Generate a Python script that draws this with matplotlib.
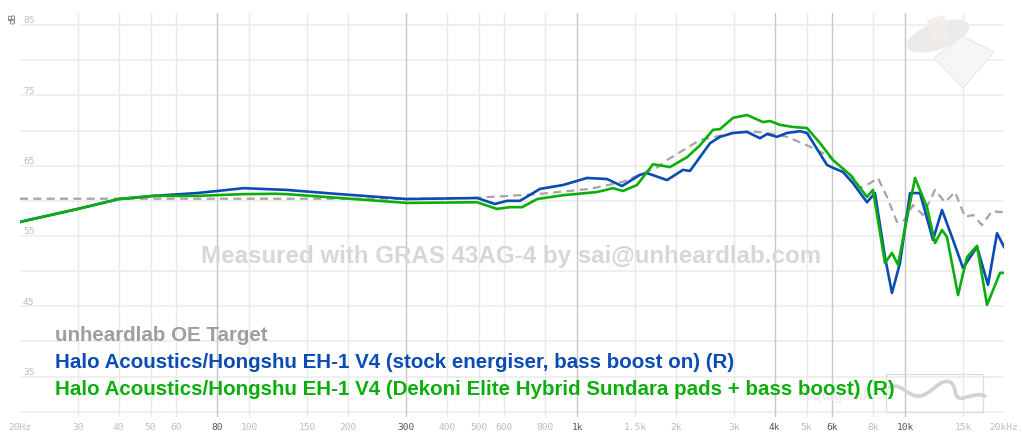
import matplotlib
matplotlib.use("Agg")
import matplotlib.pyplot as plt
import matplotlib.transforms as mtransforms
from matplotlib.patches import Polygon, Ellipse, Rectangle, PathPatch
from matplotlib.path import Path

# ---------------- data ----------------
target_f = [20, 100, 300, 480, 754, 1094, 1378, 1760, 1878, 2367, 2985, 3364, 3788, 4360, 5017,
            5774, 6022, 6929, 7278, 7808, 8258, 8796, 9436, 9842, 10560, 11326, 12322, 13218,
            14180, 15210, 16090, 17140, 18386, 19446, 20000]
target_db = [60.3, 60.3, 60.3, 60.4, 60.95, 61.7, 62.7, 64.8, 65.8, 68.65, 69.65, 69.9, 69.65, 69.1, 67.9,
             66.5, 65.8, 63.4, 61.8, 62.5, 63.25, 60.55, 57.0, 57.0, 59.4, 58.0, 61.55, 59.8,
             61.25, 57.7, 58.0, 56.55, 58.55, 58.4, 58.4]

blue_f = [20, 30, 40, 51, 69, 80, 96, 130, 189, 303,
          495, 561, 611, 669, 770, 905, 1071, 1232, 1369, 1553,
          1630, 1878, 2100, 2206, 2540, 2724, 2985, 3294, 3608, 3788,
          4064, 4360, 4776, 5017, 5774, 6022, 6458, 6929, 7644, 8086,
          8674, 9110, 9636, 10338, 11092, 12150, 12942, 13982, 14998, 16548,
          17878, 19044, 20000]
blue_db = [57.0, 58.85, 60.25, 60.7, 61.1, 61.4, 61.8, 61.55, 60.95, 60.25,
           60.4, 59.55, 60.0, 60.0, 61.7, 62.25, 63.25, 63.1, 62.1, 63.7,
           63.95, 62.95, 64.4, 64.25, 68.2, 69.1, 69.65, 69.8, 68.9, 69.5,
           69.1, 69.65, 69.9, 69.65, 65.1, 64.7, 64.1, 62.5, 59.8, 61.1,
           52.0, 46.9, 51.15, 61.1, 61.1, 54.45, 58.7, 54.45, 50.45, 53.45,
           48.05, 55.4, 53.45]

green_f = [20, 30, 40, 51, 69, 96, 120, 130, 189, 303,
           495, 569, 624, 679, 754, 905, 1149, 1285, 1378, 1521,
           1702, 1918, 2160, 2367, 2594, 2724, 2985, 3294, 3684, 3870,
           4152, 4548, 5017, 5496, 6022, 6785, 7644, 7972, 8674, 9110,
           9502, 10100, 10710, 11648, 12322, 12942, 13404, 14482, 15426, 16548,
           17754, 19446, 20000]
green_db = [57.0, 58.85, 60.25, 60.7, 60.7, 60.95, 61.0, 60.95, 60.4, 59.7,
            59.8, 58.85, 59.1, 59.1, 60.25, 60.8, 61.25, 61.8, 61.4, 62.25,
            65.2, 64.8, 66.2, 67.9, 70.1, 70.2, 71.8, 72.2, 71.2, 71.35,
            70.8, 70.5, 70.35, 68.2, 65.8, 63.7, 60.55, 61.55, 51.15, 52.6,
            50.9, 57.3, 63.25, 59.1, 54.0, 55.85, 54.85, 46.6, 52.0, 53.6,
            45.2, 49.75, 49.75]

x_ticks = [20, 30, 40, 50, 60, 80, 100, 150, 200, 300, 400, 500, 600, 800, 1000,
           1500, 2000, 3000, 4000, 5000, 6000, 8000, 10000, 15000, 20000]
x_labels = ["20Hz", "30", "40", "50", "60", "80", "100", "150", "200", "300", "400", "500",
            "600", "800", "1k", "1.5k", "2k", "3k", "4k", "5k", "6k", "8k", "10k", "15k", "20kHz"]
x_strong = [80, 300, 1000, 4000, 6000, 10000]
y_labels = [85, 75, 65, 55, 45, 35]
y_grid = [30, 35, 40, 45, 50, 55, 60, 65, 70, 75, 80, 85]

legend_names = ["unheardlab OE Target",
                "Halo Acoustics/Hongshu EH-1 V4 (stock energiser, bass boost on) (R)",
                "Halo Acoustics/Hongshu EH-1 V4 (Dekoni Elite Hybrid Sundara pads + bass boost) (R)"]

c_target = "#aaa3a3"
c_target_txt = "#a39c9c"
c_blue = "#0a4bb4"
c_green = "#0bae0b"

# ---------------- figure ----------------
W, H = 1022, 442
fig = plt.figure(figsize=(W / 100, H / 100), dpi=100)
fig.patch.set_facecolor("white")

def fx(px):
    return px / W

def fy(py):
    return 1 - py / H

ax = fig.add_axes([fx(20), fy(417), (1004 - 20) / W, (417 - 13) / H])
ax.set_xscale("log")
ax.set_xlim(20, 20000)
ax.set_ylim(29.26, 86.71)
ax.set_facecolor("none")
for s in ax.spines.values():
    s.set_visible(False)

# grid
for v in y_grid:
    ax.axhline(v, color="#efefef", lw=1.3, zorder=0)
for t in x_ticks:
    if t in (20, 20000):
        continue
    col = "#c6c6c6" if t in x_strong else "#e8e8e8"
    ax.axvline(t, color=col, lw=1.0, zorder=0)

ax.set_xticks(x_ticks)
ax.set_xticklabels(x_labels, fontfamily="DejaVu Sans Mono", fontsize=6.8)
ax.minorticks_off()
ax.tick_params(axis="x", length=0, pad=4.0)
for t, lab in zip(x_ticks, ax.get_xticklabels()):
    lab.set_color("#555555" if t in x_strong else "#bdbdbd")
ax.set_yticks([])

trans_y = mtransforms.blended_transform_factory(ax.transAxes, ax.transData)
for v in y_labels:
    ax.text(0.003, v + 0.6, str(v), transform=trans_y, ha="left", va="center",
            fontfamily="DejaVu Sans Mono", fontsize=6.8, color="#bdbdbd")
fig.text(fx(13.5), fy(18), "dB", rotation=90, ha="center", va="center",
         fontfamily="DejaVu Sans", fontsize=6, color="#666666")

# watermark
fig.text(fx(511), fy(256), "Measured with GRAS 43AG-4 by sai@unheardlab.com",
         ha="center", va="center", fontfamily="Liberation Sans", fontweight="bold",
         fontsize=17.4, color="#d7d7d7", zorder=1)

# decorative logos (faint)
fig.patches.append(Ellipse((fx(938), fy(36)), 46 / W, 38 / H, angle=-35,
                           transform=fig.transFigure, facecolor="#ebebeb", edgecolor="none", zorder=0))
fig.patches.append(Polygon([(fx(927), fy(20)), (fx(944), fy(15)), (fx(949), fy(38)), (fx(932), fy(44))],
                           closed=True, transform=fig.transFigure, facecolor="#f3ece8", edgecolor="none", zorder=0))
fig.patches.append(Polygon([(fx(934), fy(58)), (fx(962), fy(36)), (fx(994), fy(52)), (fx(963), fy(88))],
                           closed=True, transform=fig.transFigure, facecolor="#f6f6f6", edgecolor="#e8e8e8",
                           lw=0.8, zorder=0))
fig.patches.append(Rectangle((fx(886), fy(412)), 97 / W, 38 / H, transform=fig.transFigure,
                             facecolor="none", edgecolor="#dcdcdc", lw=0.9, zorder=0))
sq_verts = [(fx(890), fy(387)), (fx(902), fy(382)), (fx(908), fy(398)), (fx(920), fy(396)),
            (fx(932), fy(394)), (fx(940), fy(378)), (fx(950), fy(382)),
            (fx(958), fy(386)), (fx(952), fy(400)), (fx(963), fy(398)),
            (fx(972), fy(396)), (fx(978), fy(393)), (fx(985), fy(396))]
sq_codes = [Path.MOVETO] + [Path.CURVE4] * 12
fig.patches.append(PathPatch(Path(sq_verts, sq_codes), transform=fig.transFigure,
                             facecolor="none", edgecolor="#d2d2d2", lw=2.6, capstyle="round", zorder=0))
fig.text(fx(836), fy(396), ".squig.link", ha="center", va="center", fontfamily="Liberation Sans",
         fontweight="bold", fontsize=10, color="#ececec", zorder=0)

# curves
ax.plot(target_f, target_db, color=c_target, lw=1.6, linestyle=(0, (3.6, 2.4)), zorder=2)
ax.plot(blue_f, blue_db, color=c_blue, lw=1.9, solid_joinstyle="round", zorder=3)
ax.plot(green_f, green_db, color=c_green, lw=1.9, solid_joinstyle="round", zorder=4)

# legend texts
for name, col, base in zip(legend_names, [c_target_txt, c_blue, c_green], [341, 368, 395]):
    fig.text(fx(55), fy(base), name, ha="left", va="baseline", fontfamily="Liberation Sans",
             fontweight="bold", fontsize=14.8, color=col, zorder=5)

fig.savefig("out.png", dpi=100, facecolor="white")
